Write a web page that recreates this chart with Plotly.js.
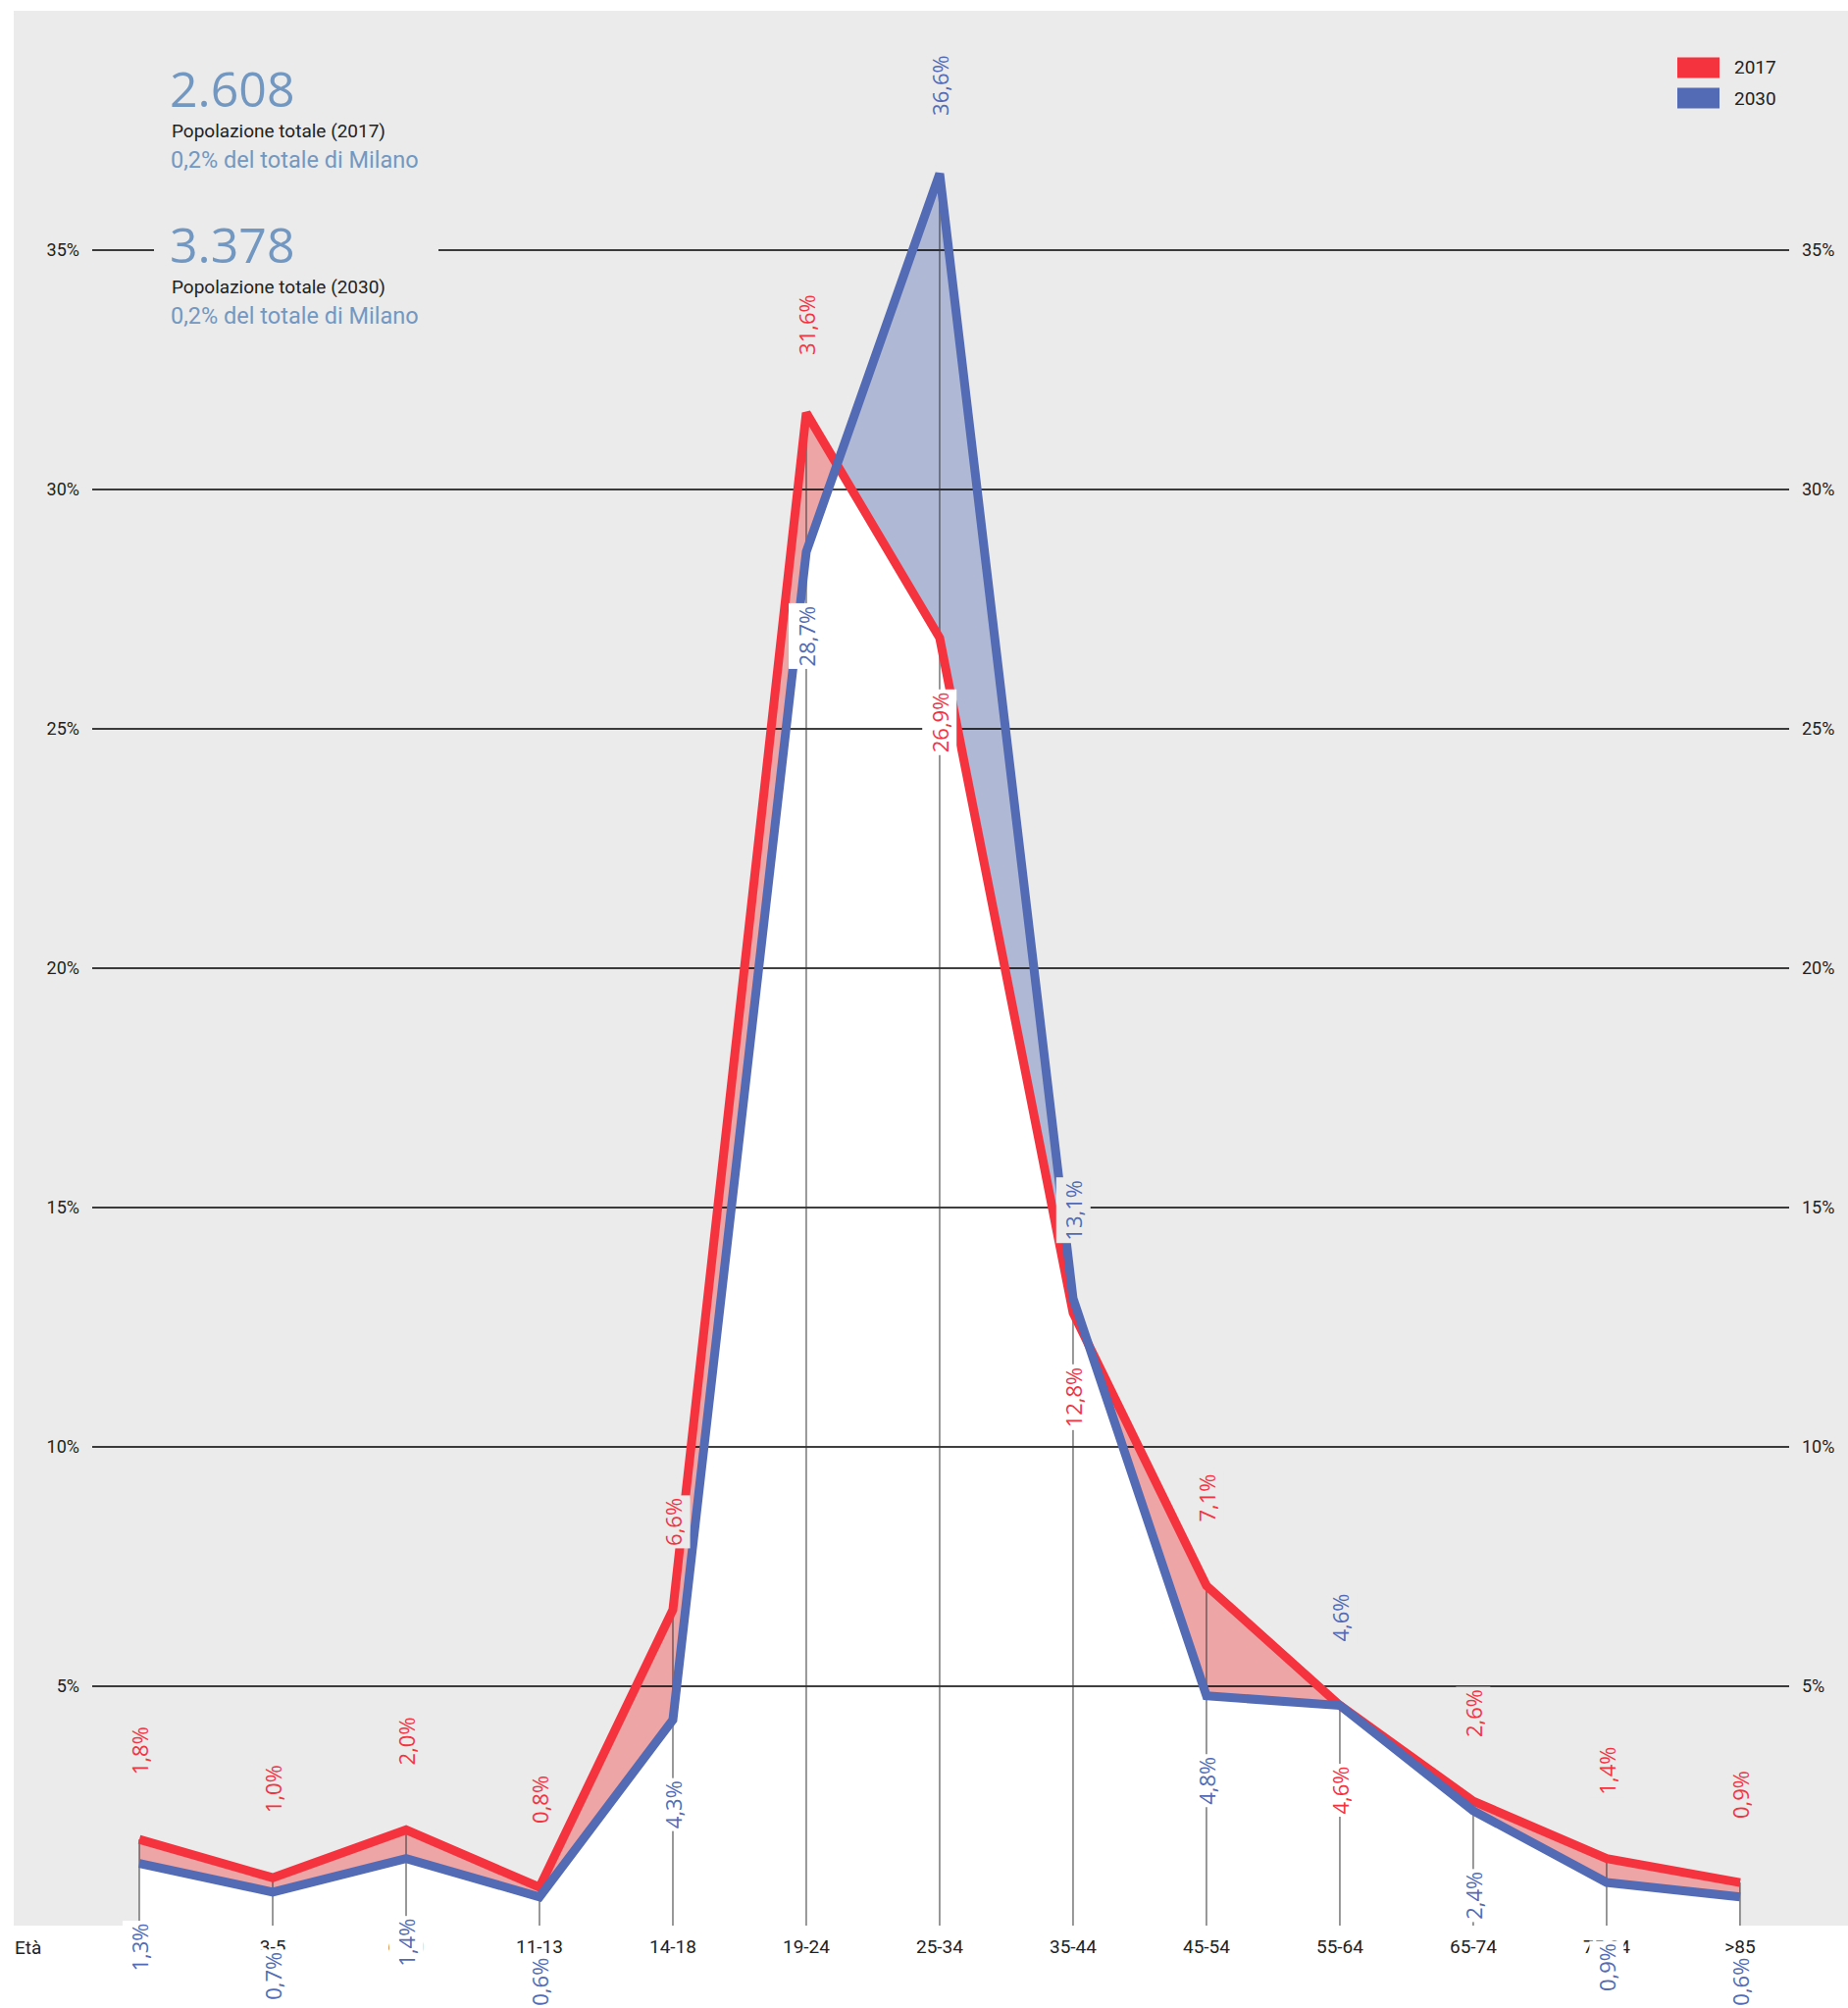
<!DOCTYPE html>
<html>
<head>
<meta charset="utf-8">
<script src="https://cdn.plot.ly/plotly-3.0.1.min.js"></script>
<style>html,body{margin:0;padding:0;background:#fff;}#chart{width:1884px;height:2047px;}</style>
</head>
<body>
<div id="chart"></div>
<script>
// ---- DATA ----
const categories = ['0-2','3-5','6-10','11-13','14-18','19-24','25-34','35-44','45-54','55-64','65-74','75-84','>85'];
const values2017 = [1.8,1.0,2.0,0.8,6.6,31.6,26.9,12.8,7.1,4.6,2.6,1.4,0.9];
const values2030 = [1.3,0.7,1.4,0.6,4.3,28.7,36.6,13.1,4.8,4.6,2.4,0.9,0.6];
const seriesNames = ['2017','2030'];
const yTickVals = [5,10,15,20,25,30,35];
const yTickText = ['5%','10%','15%','20%','25%','30%','35%'];
const totals = [2608, 3378];
const totalLabels = ['Popolazione totale (2017)','Popolazione totale (2030)'];
const shareLabels = ['0,2% del totale di Milano','0,2% del totale di Milano'];
const axisTitle = 'Età';

// ---- STYLE ----
const RED = '#F5333F', BLUE = '#536AB4', PINK = '#EDA5A6', LBLUE = '#AFB8D5', GREY = '#EBEBEB';
const TXT = '#222222', STEEL = '#7298C2';
const FONT = 'Roboto, "Open Sans", sans-serif';
const LFONT = '"Open Sans", Roboto, sans-serif';
const PL = 94, PR = 60, PT = 11, PB = 84, W = 1884, H = 2047;
const PW = W - PL - PR, PH = H - PT - PB;
const px2x = p => (p - PL) / PW;
const py2y = p => (H - PB - p) / PH;
const XR = [-0.353, 12.368], YR = [0, 40];

const idx = categories.map((_, i) => i);

// lower envelope (with crossing points) computed from data
function lowerEnvelope(a, b) {
  const xs = [], ys = [];
  for (let i = 0; i < a.length; i++) {
    xs.push(i); ys.push(Math.min(a[i], b[i]));
    if (i < a.length - 1) {
      const d0 = a[i] - b[i], d1 = a[i + 1] - b[i + 1];
      if (d0 * d1 < 0) {
        const t = d0 / (d0 - d1);
        xs.push(i + t); ys.push(a[i] + t * (a[i + 1] - a[i]));
      }
    }
  }
  return {xs, ys};
}
const env = lowerEnvelope(values2017, values2030);

// gridlines and vertical guides
const gx = [], gy = [];
yTickVals.forEach(v => { gx.push(XR[0], XR[1], null); gy.push(v, v, null); });
const vx = [], vy = [];
idx.forEach(i => { vx.push(i, i, null); vy.push(0, Math.max(values2017[i], values2030[i]), null); });

const traces = [
  {x: idx, y: values2017, mode: 'lines', fill: 'tozeroy', fillcolor: PINK, line: {width: 0, color: PINK}, hoverinfo: 'skip'},
  {x: idx, y: values2030, mode: 'lines', fill: 'tozeroy', fillcolor: LBLUE, line: {width: 0, color: LBLUE}, hoverinfo: 'skip'},
  {x: env.xs, y: env.ys, mode: 'lines', fill: 'tozeroy', fillcolor: '#FFFFFF', line: {width: 0, color: '#FFFFFF'}, hoverinfo: 'skip'},
  {x: gx, y: gy, mode: 'lines', line: {width: 1.3, color: '#000000'}, hoverinfo: 'skip', cliponaxis: false},
  {x: vx, y: vy, mode: 'lines', line: {width: 1, color: '#333333'}, hoverinfo: 'skip'},
  {x: idx, y: values2017, mode: 'lines', name: seriesNames[0], line: {width: 9, color: RED}, hoverinfo: 'skip'},
  {x: idx, y: values2030, mode: 'lines', name: seriesNames[1], line: {width: 9, color: BLUE}, hoverinfo: 'skip'},
  {x: idx, y: values2030, mode: 'none', yaxis: 'y2', hoverinfo: 'skip'}
];

const fmt = v => v.toFixed(1).replace('.', ',') + '%';
const annotations = [];
idx.forEach(i => {
  const r = values2017[i], b = values2030[i];
  const redAbove = r > b;
  [[r, RED, redAbove], [b, BLUE, !redAbove]].forEach(([v, col, above]) => {
    annotations.push({
      x: i, y: v, xref: 'x', yref: 'y', text: fmt(v), showarrow: false,
      textangle: -90, yshift: above ? 90 : -86,
      font: {family: LFONT, size: 22, color: col},
      bgcolor: above ? GREY : '#FFFFFF', borderpad: 2
    });
  });
});

// text block
const thousands = n => n.toString().replace(/\B(?=(\d{3})+(?!\d))/g, '.');
const blockY = [[90, 133, 163], [249, 293, 322]];
totals.forEach((t, k) => {
  annotations.push({xref: 'paper', yref: 'paper', x: px2x(171), y: py2y(blockY[k][0]), xanchor: 'left', yanchor: 'middle',
    text: thousands(t), showarrow: false, font: {family: LFONT, size: 50, color: STEEL}});
  annotations.push({xref: 'paper', yref: 'paper', x: px2x(173), y: py2y(blockY[k][1]), xanchor: 'left', yanchor: 'middle',
    text: totalLabels[k], showarrow: false, font: {family: FONT, size: 19, color: TXT}});
  annotations.push({xref: 'paper', yref: 'paper', x: px2x(172), y: py2y(blockY[k][2]), xanchor: 'left', yanchor: 'middle',
    text: shareLabels[k], showarrow: false, font: {family: FONT, size: 23.5, color: STEEL}});
});

// legend
const legY = [69, 100], legCol = [RED, BLUE];
const shapes = [
  {type: 'rect', xref: 'paper', yref: 'paper', x0: px2x(14), x1: px2x(1884), y0: 0, y1: 1, fillcolor: GREY, line: {width: 0}, layer: 'below'},
  {type: 'rect', xref: 'paper', yref: 'paper', x0: px2x(157), x1: px2x(447), y0: py2y(262), y1: py2y(248), fillcolor: GREY, line: {width: 0}, layer: 'above'}
];
seriesNames.forEach((n, k) => {
  shapes.push({type: 'rect', xref: 'paper', yref: 'paper', x0: px2x(1710), x1: px2x(1753), y0: py2y(legY[k] + 10.5), y1: py2y(legY[k] - 10.5),
    fillcolor: legCol[k], line: {width: 0}, layer: 'above'});
  annotations.push({xref: 'paper', yref: 'paper', x: px2x(1766), y: py2y(legY[k]), xanchor: 'left', yanchor: 'middle',
    text: n, showarrow: false, font: {family: FONT, size: 19, color: TXT}});
});
annotations.push({xref: 'paper', yref: 'paper', x: px2x(13), y: py2y(1985), xanchor: 'left', yanchor: 'middle',
  text: axisTitle, showarrow: false, font: {family: FONT, size: 19, color: TXT}});

const yax = {range: YR, tickvals: yTickVals, ticktext: yTickText, showgrid: false, zeroline: false, showline: false,
  ticks: '', tickfont: {family: FONT, size: 18, color: TXT}, ticklabelstandoff: 12, fixedrange: true};

const layout = {
  width: W, height: H, margin: {l: PL, r: PR, t: PT, b: PB},
  paper_bgcolor: '#FFFFFF', plot_bgcolor: 'rgba(0,0,0,0)', showlegend: false,
  xaxis: {range: XR, tickvals: idx, ticktext: categories, showgrid: false, zeroline: false, showline: false, ticks: '',
    tickfont: {family: FONT, size: 19, color: TXT}, ticklabelstandoff: 8, fixedrange: true},
  yaxis: Object.assign({}, yax, {side: 'left'}),
  yaxis2: Object.assign({}, yax, {side: 'right', overlaying: 'y'}),
  shapes: shapes, annotations: annotations
};

Plotly.newPlot('chart', traces, layout, {displayModeBar: false, staticPlot: true});
</script>
</body>
</html>
